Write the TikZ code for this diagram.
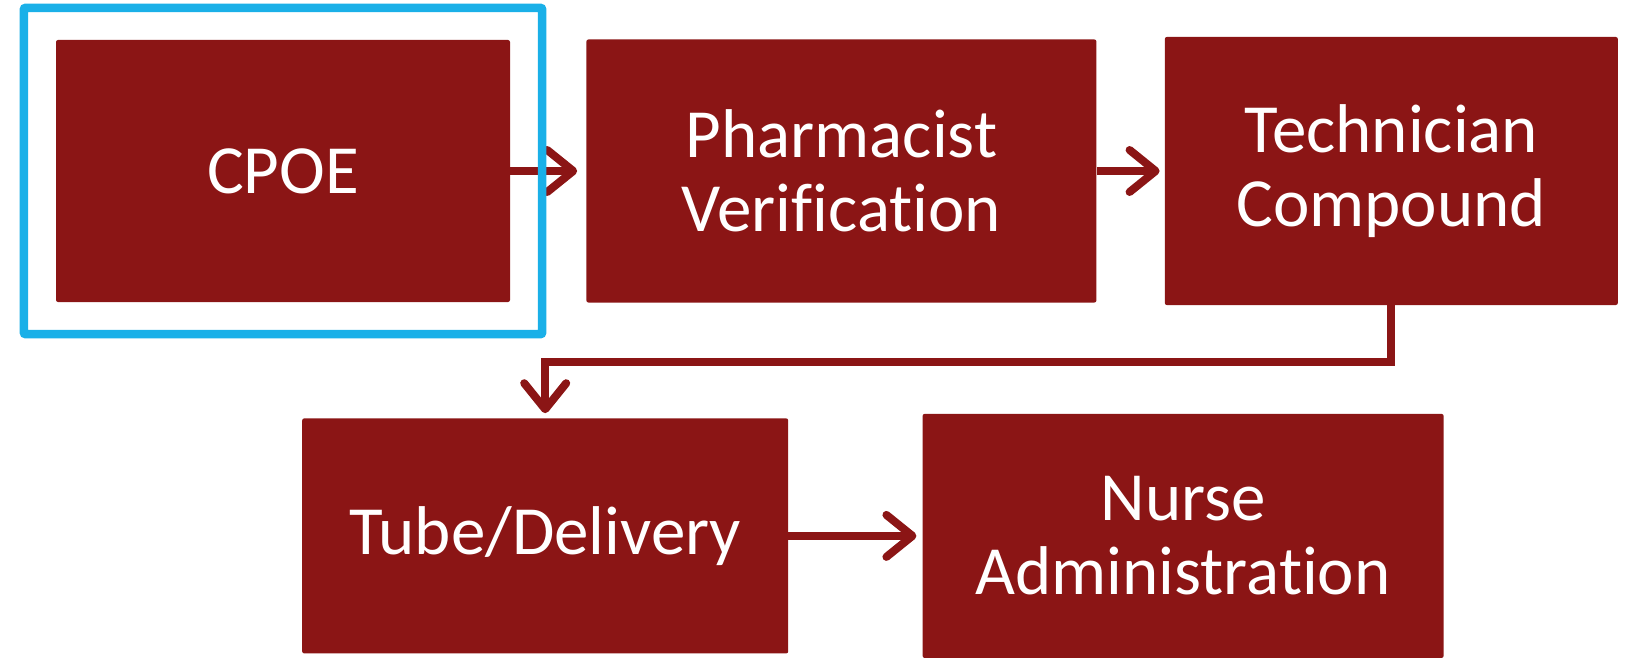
\documentclass[tikz,border=0pt]{standalone}
\usepackage{fontspec}
\setmainfont[Ligatures=NoCommon]{Carlito}
\usetikzlibrary{positioning,fit,arrows.meta}
\definecolor{boxred}{HTML}{8B1515}
\definecolor{framecyan}{HTML}{1AB0E8}
\tikzset{
  stepbox/.style={rectangle, fill=boxred, text=white, rounded corners=2pt, align=center, inner sep=0pt, font=\fontsize{69}{74}\selectfont},
  flow/.style={draw=boxred, line width=8pt, -{Straight Barb[length=26pt,width=42pt,round]}},
  highlight/.style={draw=framecyan, line width=8.5pt, rounded corners=2pt, inner sep=32pt}
}

\begin{document}
\begin{tikzpicture}
	\useasboundingbox (0,0) rectangle (1640pt,-661pt);
	% First row
	\node[stepbox, minimum width=454pt, minimum height=262pt] (cpoe) at (283pt,-171pt) {CPOE};
	\node[stepbox, minimum width=510pt, minimum height=263pt, right=76pt of cpoe] (pharm) {Pharmacist\\Verification};
	\node[stepbox, minimum width=453pt, minimum height=268pt, right=68pt of pharm] (tech) {Technician\\Compound};

	% Second row
	\node[stepbox, minimum width=486pt, minimum height=235pt, below=116pt of cpoe.south east, xshift=35pt] (tube) {Tube/Delivery};
	\node[stepbox, minimum width=521pt, minimum height=244pt, right=134pt of tube] (nurse) {Nurse\\Administration};

	% Paths
	\draw[flow, shorten >=9pt] (cpoe) -- (pharm);
	\draw[flow, shorten >=5pt] (pharm) -- (tech);
	\draw[flow, shorten >=5pt] (tech.south) -- ++(0,-57pt) -| (tube.north);
	\draw[flow, shorten >=6pt] (tube) -- (nurse);

	% Highlight frame
	\node[highlight, fit=(cpoe)] (focus) {};
\end{tikzpicture}
\end{document}
